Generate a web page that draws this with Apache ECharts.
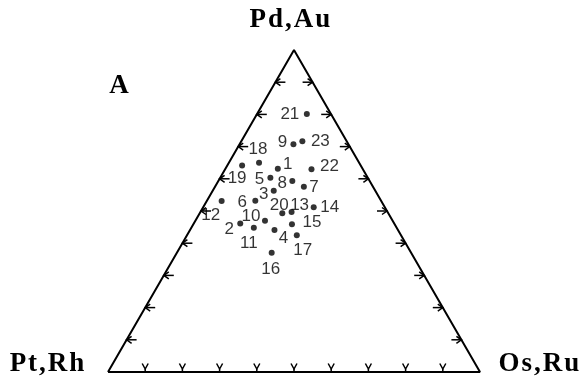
<!DOCTYPE html>
<html>
<head>
<meta charset="utf-8">
<script src="https://cdn.jsdelivr.net/npm/echarts@6/dist/echarts.min.js"></script>
<style>
  html, body { margin: 0; padding: 0; background: #fff; }
  #main { width: 585px; height: 381px; }
</style>
</head>
<body>
<div id="main"></div>
<script>
// sample numbers and ternary compositions (percent)
const sampleIds = ['1', '2', '3', '4', '5', '6', '7', '8', '9', '10', '11', '12',
  '13', '14', '15', '16', '17', '18', '19', '20', '21', '22', '23']
const pdAu = [63.1, 46.1, 56.3, 44.1, 60.3, 53.2, 57.5, 59.3, 70.7, 47.0, 44.8, 53.1,
  49.7, 51.2, 45.9, 37.0, 42.5, 65.0, 64.1, 49.3, 80.1, 63.0, 71.7]
const ptRh = [22.8, 41.4, 27.3, 33.2, 26.2, 33.8, 18.6, 20.8, 14.8, 34.3, 38.4, 42.9,
  25.8, 19.1, 27.6, 37.5, 28.0, 26.9, 31.9, 28.5, 6.5, 13.8, 11.9]
const osRu = [14.1, 12.5, 16.4, 22.7, 13.5, 13.0, 23.9, 19.9, 14.5, 18.7, 16.8, 4.0,
  24.5, 29.7, 26.5, 25.5, 29.5, 8.1, 4.0, 22.2, 13.4, 23.2, 16.4]

// corner compositions [Pd,Au, Pt,Rh, Os,Ru] and tick marks along each side
const cornerNames = ['Pd,Au', 'Pt,Rh', 'Os,Ru']
const corners = [[0, 100, 0], [0, 0, 100], [100, 0, 0], [0, 100, 0]]
const tickValues = [10, 20, 30, 40, 50, 60, 70, 80, 90]

// where each number sits relative to its dot (px)
const labelOffset = {
  '1': [10, -5], '2': [-11, 6], '3': [-10, 4], '4': [9, 8], '5': [-11, 1],
  '6': [-13, 2], '7': [10, 0], '8': [-10, 2], '9': [-11, -2], '10': [-14, -4],
  '11': [-5, 16], '12': [-11, 14], '13': [8, -7], '14': [16, 0], '15': [20, -2],
  '16': [-1, 16], '17': [6, 15], '18': [-1, -13], '19': [-5, 13], '20': [-3, -8],
  '21': [-17, 0], '22': [18, -3], '23': [18, 0]
}

const H = Math.sqrt(3) / 2

// ternary (top, left, right) -> cartesian
function toXY (a, b, c) {
  const s = a + b + c
  return [(c + a / 2) / s, (a / s) * H]
}

const points = sampleIds.map((id, i) => ({
  name: id,
  value: toXY(pdAu[i], ptRh[i], osRu[i]),
  label: { offset: labelOffset[id] }
}))

function renderTick (params, api) {
  const v = api.value(0)
  const b = api.coord(toXY(0, 100 - v, v))
  const l = api.coord(toXY(v, 100 - v, 0))
  const r = api.coord(toXY(v, 0, 100 - v))
  const st = { stroke: '#000', lineWidth: 1.5, fill: null }
  return {
    type: 'group',
    children: [
      { type: 'polyline', shape: { points: [[b[0] - 3, b[1] - 8.5], [b[0], b[1] - 3], [b[0] + 3, b[1] - 8.5]] }, style: st },
      { type: 'line', shape: { x1: b[0], y1: b[1] - 3, x2: b[0], y2: b[1] }, style: st },
      { type: 'polyline', shape: { points: [[l[0] + 5, l[1] - 3.5], [l[0], l[1]], [l[0] + 5, l[1] + 3.5]] }, style: st },
      { type: 'line', shape: { x1: l[0], y1: l[1], x2: l[0] + 10, y2: l[1] }, style: st },
      { type: 'polyline', shape: { points: [[r[0] - 5, r[1] - 3.5], [r[0], r[1]], [r[0] - 5, r[1] + 3.5]] }, style: st },
      { type: 'line', shape: { x1: r[0], y1: r[1], x2: r[0] - 10, y2: r[1] }, style: st }
    ]
  }
}

// spread letters a little like the typeset original
function spaced (txt) {
  return txt.split('').map(ch => '{s|' + ch + '}').join('')
}

const cornerFont = {
  s: {
    fontFamily: 'Liberation Serif',
    fontWeight: 'bold',
    fontSize: 27,
    padding: [0, 1],
    color: '#000'
  }
}

function cornerText (txt, x, y) {
  return {
    type: 'text',
    x: x,
    y: y,
    style: {
      text: spaced(txt),
      rich: cornerFont,
      align: 'center',
      verticalAlign: 'middle'
    }
  }
}

const myChart = echarts.init(document.getElementById('main'))

myChart.setOption({
  backgroundColor: '#fff',
  animation: false,
  grid: { left: 108, top: 50, width: 372, height: 322 },
  xAxis: { type: 'value', min: 0, max: 1, show: false },
  yAxis: { type: 'value', min: 0, max: H, show: false },
  graphic: [
    cornerText(cornerNames[0], 290, 20),
    cornerText(cornerNames[1], 47, 364),
    cornerText(cornerNames[2], 539, 364),
    cornerText('A', 119, 86)
  ],
  series: [
    {
      type: 'line',
      data: corners.map(c => toXY(c[0], c[1], c[2])),
      symbol: 'none',
      clip: false,
      lineStyle: { color: '#000', width: 2 },
      silent: true
    },
    {
      type: 'custom',
      data: tickValues,
      renderItem: renderTick,
      clip: false,
      silent: true
    },
    {
      type: 'scatter',
      data: points,
      symbol: 'circle',
      symbolSize: 6,
      clip: false,
      itemStyle: { color: '#000' },
      label: {
        show: true,
        position: 'inside',
        formatter: '{b}',
        color: '#000',
        fontFamily: 'Liberation Sans',
        fontSize: 17
      }
    }
  ]
})
</script>
</body>
</html>
